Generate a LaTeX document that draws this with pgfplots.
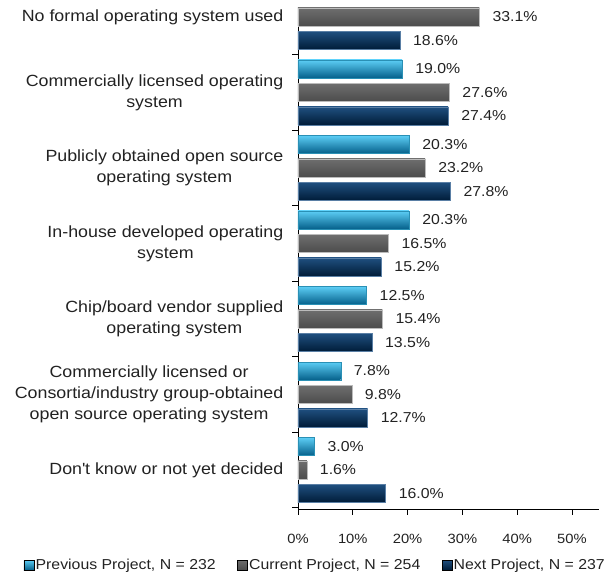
\documentclass[border=0pt]{standalone}
\usepackage{fontspec}
\setmainfont{Liberation Sans}[FakeStretch=1.1]
\usepackage{pgfplots}
\pgfplotsset{compat=1.18}
\definecolor{pbmid}{HTML}{00A8E8}
\definecolor{pbtop}{HTML}{5CCDF5}
\definecolor{pbbot}{HTML}{05608A}
\definecolor{pbln}{HTML}{2A90B5}
\definecolor{cgmid}{HTML}{A8A8A8}
\definecolor{cgtop}{HTML}{6E6E6E}
\definecolor{cgbot}{HTML}{4C4C4C}
\definecolor{cgln}{HTML}{BBBBBB}
\definecolor{nnmid}{HTML}{073C6E}
\definecolor{nntop}{HTML}{1F4F7F}
\definecolor{nnbot}{HTML}{001C38}
\definecolor{nnln}{HTML}{5A7FA5}
\definecolor{txt}{HTML}{222222}
\pgfplotsset{
  prevbar/.style={xbar, bar width=0.238, bar shift=0pt, top color=pbtop, middle color=pbmid, bottom color=pbbot, draw=pbln, line width=0.4pt, forget plot},
  curbar/.style={xbar, bar width=0.238, bar shift=0pt, top color=cgtop, middle color=cgmid, bottom color=cgbot, draw=cgln, line width=0.4pt, forget plot},
  nextbar/.style={xbar, bar width=0.238, bar shift=0pt, top color=nntop, middle color=nnmid, bottom color=nnbot, draw=nnln, line width=0.4pt, forget plot},
}
\begin{document}
\begin{tikzpicture}
\useasboundingbox (-298bp,-66bp) rectangle (308bp,509bp);
\begin{axis}[
  at={(0,0)}, anchor=south west,
  scale only axis,
  width=301.4bp, height=502bp,
  xmin=0, xmax=55, ymin=-0.517, ymax=6.132,
  axis x line*=bottom, axis y line*=left,
  axis line style={black, line width=0.8pt},
  xtick={0,10,...,50},
  xticklabel={\pgfmathprintnumber{\tick}\%},
  /pgf/number format/assume math mode=true,
  xticklabel style={font=\fontsize{13.4bp}{16bp}\selectfont, text=txt, yshift=-16bp},
  tick align=outside,
  major tick length=5.5bp,
  tick style={black, line width=0.6pt},
  ytick={0,...,6},
  y tick style={draw=none},
  yticklabels={{Don\textquotesingle t know or not yet decided},
    {Commercially licensed or\\Consortia/industry group-obtained\\open source operating system},
    {Chip/board vendor supplied\\operating system},
    {In-house developed operating\\system},
    {Publicly obtained open source\\operating system},
    {Commercially licensed operating\\system},
    {No formal operating system used}},
  yticklabel style={align=center, font=\fontsize{16.2bp}{21bp}\selectfont, text=txt, inner sep=0pt, xshift=-9bp},
  extra y ticks={-0.5,0.5,...,5.5},
  extra y tick labels={},
  extra y tick style={y tick style={draw=black}},
  point meta=x,
  nodes near coords={\pgfmathprintnumber[fixed,fixed zerofill,precision=1]{\pgfplotspointmeta}\%},
  nodes near coords style={anchor=west, inner sep=0pt, xshift=13bp, font=\fontsize{14.4bp}{17bp}\selectfont, text=txt},
  legend columns=3,
  legend style={draw=none, fill=none, at={(axis description cs:0.0564,-0.1116)}, anchor=center,
    font=\fontsize{14.4bp}{17bp}\selectfont, text=txt, inner sep=0pt,
    nodes={inner sep=1.5bp},
    /tikz/every even column/.append style={column sep=20bp}},
  clip=false,
]
% Previous Project, N = 232
\addplot[prevbar] coordinates {(19.0,5.311)};
\addplot[prevbar] coordinates {(20.3,4.311)};
\addplot[prevbar] coordinates {(20.3,3.311)};
\addplot[prevbar] coordinates {(12.5,2.311)};
\addplot[prevbar] coordinates {(7.8,1.311)};
\addplot[prevbar] coordinates {(3.0,0.311)};
% Current Project, N = 254
\addplot[curbar] coordinates {(33.1,6)};
\addplot[curbar] coordinates {(27.6,5)};
\addplot[curbar] coordinates {(23.2,4)};
\addplot[curbar] coordinates {(16.5,3)};
\addplot[curbar] coordinates {(15.4,2)};
\addplot[curbar] coordinates {(9.8,1)};
\addplot[curbar] coordinates {(1.6,0)};
% Next Project, N = 237
\addplot[nextbar] coordinates {(18.6,5.689)};
\addplot[nextbar] coordinates {(27.4,4.689)};
\addplot[nextbar] coordinates {(27.8,3.689)};
\addplot[nextbar] coordinates {(15.2,2.689)};
\addplot[nextbar] coordinates {(13.5,1.689)};
\addplot[nextbar] coordinates {(12.7,0.689)};
\addplot[nextbar] coordinates {(16.0,-0.311)};
\addlegendimage{legend image code/.code={\path[top color=pbtop, middle color=pbmid, bottom color=pbbot] (0bp,-5bp) rectangle (10bp,5bp);}}
\addlegendentry{Previous Project, N = 232}
\addlegendimage{legend image code/.code={\path[top color=cgtop, middle color=cgmid, bottom color=cgbot] (0bp,-5bp) rectangle (10bp,5bp);}}
\addlegendentry{Current Project, N = 254}
\addlegendimage{legend image code/.code={\path[top color=nntop, middle color=nnmid, bottom color=nnbot] (0bp,-5bp) rectangle (10bp,5bp);}}
\addlegendentry{Next Project, N = 237}
\end{axis}
\end{tikzpicture}
\end{document}
